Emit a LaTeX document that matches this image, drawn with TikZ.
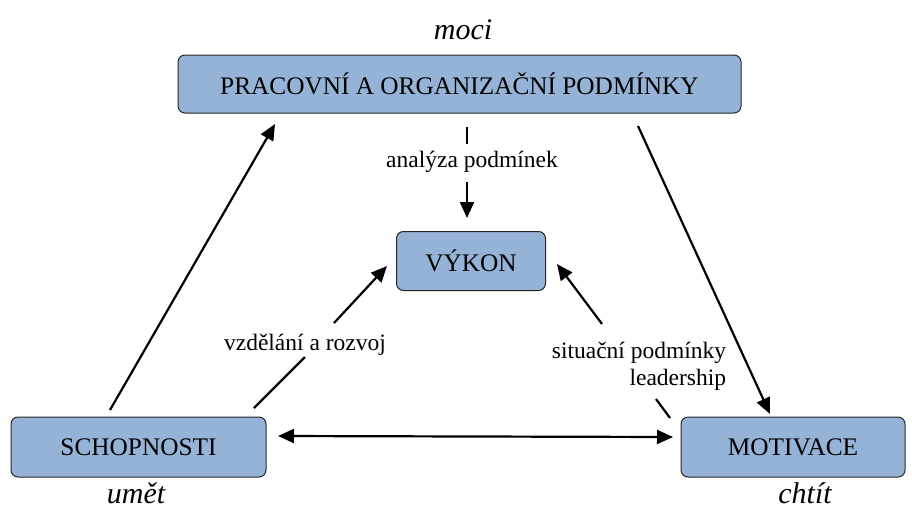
\documentclass[tikz,border=0pt]{standalone}
\usepackage{fontspec}
\setmainfont{Liberation Serif}
\usetikzlibrary{arrows.meta}
\definecolor{boxblue}{HTML}{95B3D7}
\begin{document}
\begin{tikzpicture}[x=1pt,y=-1pt,
  box/.style={draw=black!85, line width=1pt, fill=boxblue, rounded corners=7pt,
    inner sep=0pt, font=\fontsize{25.3}{28}\selectfont},
  lbl/.style={font=\fontsize{23.5}{27}\selectfont, inner sep=0pt},
  wrd/.style={font=\fontsize{30}{32}\selectfont\itshape, inner sep=0pt},
  conn/.style={line width=2.2pt},
  tip/.style={-{Triangle[length=16pt,width=14pt]}},
  arr/.style={conn, tip}]
\useasboundingbox (0,0) rectangle (912,509);

% boxes
\node[box, minimum width=563pt, minimum height=58pt] (pod) at (459.5,84) {PRACOVNÍ A ORGANIZAČNÍ PODMÍNKY};
\node[box, minimum width=149pt, minimum height=59pt] (vyk) at (471,261) {VÝKON};
\node[box, minimum width=255pt, minimum height=60pt] (sch) at (138.5,447) {SCHOPNOSTI};
\node[box, minimum width=224pt, minimum height=60pt] (mot) at (793,447) {MOTIVACE};

% italic verbs
\node[wrd] (moci) at (463,30) {moci};
\node[wrd] (umet) at (136,493) {umět};
\node[wrd] (chtit) at (805,493) {chtít};

% edge labels
\node[lbl] (la) at (472,162) {analýza podmínek};
\node[lbl] (lv) at (305,345) {vzdělání a rozvoj};
\node[lbl, align=right] (ls) at (639,366) {situační podmínky\\leadership};

% connector ends
\coordinate (a1) at (467,127); \coordinate (a2) at (467,144);
\coordinate (a3) at (467,182); \coordinate (a4) at (467,218);
\coordinate (v1) at (254,408); \coordinate (v2) at (305,357);
\coordinate (v3) at (334,323); \coordinate (v4) at (387,266);
\coordinate (s1) at (670,418); \coordinate (s2) at (656,399);
\coordinate (s3) at (602,324); \coordinate (s4) at (557,264);
\coordinate (t1) at (110,410); \coordinate (t2) at (275,124);
\coordinate (m1) at (638,126); \coordinate (m2) at (770,414);
\coordinate (h1) at (278,436); \coordinate (h2) at (673,437);

% connectors
\draw[arr] (t1) -- (t2);
\draw[arr] (m1) -- (m2);
\draw[conn, {Triangle[length=16pt,width=14pt]}-{Triangle[length=16pt,width=14pt]}] (h1) -- (h2);
\draw[conn] (a1) -- (a2);
\draw[arr] (a3) -- (a4);
\draw[conn] (v1) -- (v2);
\draw[arr] (v3) -- (v4);
\draw[conn] (s1) -- (s2);
\draw[arr] (s3) -- (s4);
\end{tikzpicture}
\end{document}
